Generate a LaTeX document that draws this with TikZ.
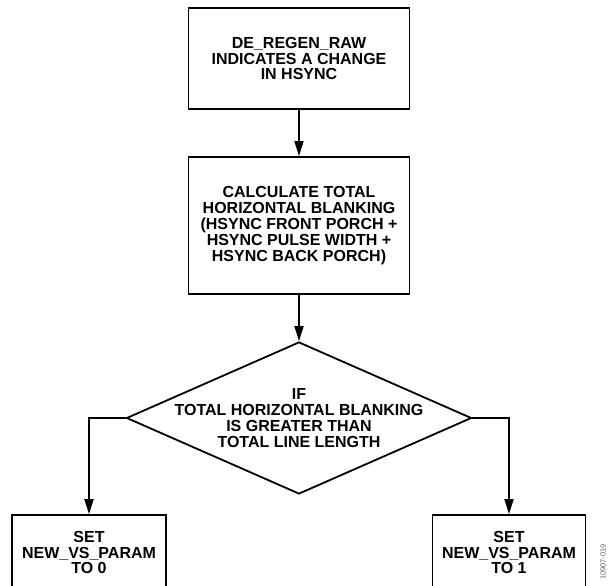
\documentclass[tikz,border=0pt]{standalone}
\usepackage{fontspec}
\setmainfont{Liberation Sans}
\usetikzlibrary{shapes.geometric, arrows.meta}

\begin{document}
\begin{tikzpicture}[x=1pt, y=-1pt, stepbox/.style={draw, line width=1.8pt, align=center, inner sep=0pt, font=\bfseries\fontsize{16}{15.9}\selectfont}, decision/.style={stepbox, diamond, aspect=2.27, inner xsep=-60pt, minimum width=345pt, minimum height=152pt}, flow/.style={line width=1.8pt, -{Triangle[length=15pt, width=9pt]}}]
			\useasboundingbox (0,0) rectangle (608,586);
			\node[stepbox, minimum width=221pt, minimum height=101pt] (start) at (299,58.5) {DE\_REGEN\_RAW\\INDICATES A CHANGE\\IN HSYNC};
			\node[stepbox, minimum width=221pt, minimum height=137pt] (calc) at (299,225.5) {CALCULATE TOTAL\\HORIZONTAL BLANKING\\(HSYNC FRONT PORCH +\\HSYNC PULSE WIDTH +\\HSYNC BACK PORCH)};
			\node[decision] (test) at (299,418) {IF\\TOTAL HORIZONTAL BLANKING\\IS GREATER THAN\\TOTAL LINE LENGTH};
			\node[stepbox, minimum width=154pt, minimum height=75pt] (setzero) at (89,552.5) {SET\\NEW\_VS\_PARAM\\TO 0};
			\node[stepbox, minimum width=153pt, minimum height=75pt] (setone) at (509,552.5) {SET\\NEW\_VS\_PARAM\\TO 1};
			% figure number at the right edge
			\node[rotate=90, text=black!60, font=\fontsize{7.5}{8}\selectfont] (figno) at (603,562) {10907-019};
			\draw[flow] (start) -- (calc);
			\draw[flow] (calc) -- (test);
			\draw[flow] (test.west) -| (setzero.north);
			\draw[flow] (test.east) -| (setone.north);
\end{tikzpicture}
\end{document}
